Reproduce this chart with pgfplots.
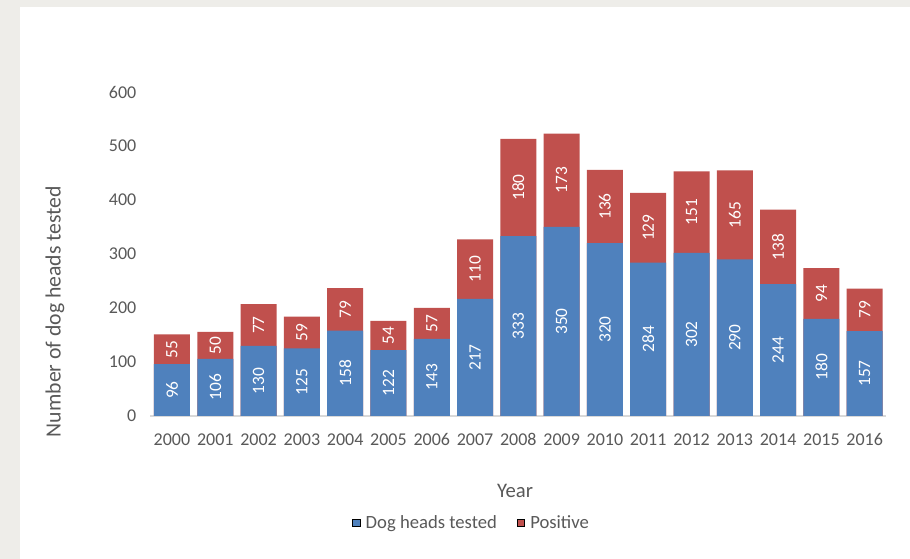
\documentclass[border=0pt]{standalone}
\usepackage{fontspec}
\setmainfont{Carlito}
\usepackage{pgfplots}
\pgfplotsset{compat=1.18}
\usepackage{pgfplotstable}
\definecolor{bluec}{RGB}{79,129,189}
\definecolor{redc}{RGB}{192,80,77}
\definecolor{txt}{RGB}{89,89,89}
\definecolor{bggray}{RGB}{238,237,233}
\definecolor{axgray}{RGB}{217,217,217}

\pgfplotstableread{
x t p
0 96 55
1 106 50
2 130 77
3 125 59
4 158 79
5 122 54
6 143 57
7 217 110
8 333 180
9 350 173
10 320 136
11 284 129
12 302 151
13 290 165
14 244 138
15 180 94
16 157 79
}\data

\begin{document}
\begin{tikzpicture}
\fill[bggray] (0,0) rectangle (682.5pt,419.25pt);
\fill[white] (15pt,0) rectangle (682.5pt,414pt);
\begin{axis}[
  at={(112.76pt,107.25pt)}, anchor=south west,
  scale only axis, width=552pt, height=243pt,
  xmin=-0.5, xmax=16.5, ymin=0, ymax=600,
  clip=false,
  axis x line=bottom, axis y line=left,
  x axis line style={draw=axgray, line width=0.9pt, -},
  y axis line style={draw=none},
  major tick length=0pt,
  tick style={draw=none},
  xtick={0,...,16},
  xticklabels={2000,2001,2002,2003,2004,2005,2006,2007,2008,2009,2010,2011,2012,2013,2014,2015,2016},
  ytick={0,100,...,600},
  /pgf/number format/assume math mode=true,
  ticklabel style={font=\fontsize{13.5}{16}\selectfont, text=txt},
  yticklabel style={xshift=-7pt},
  xticklabel style={anchor=north, text height=9pt, text depth=2pt, yshift=-9.5pt},
  xlabel={Year},
  ylabel={Number of dog heads tested},
  label style={font=\fontsize{15.5}{18}\selectfont, text=txt},
  xlabel style={at={(axis description cs:0.4955,-0.2315)}, anchor=center},
  ylabel style={at={(axis description cs:-0.1296,0.3225)}, anchor=center, font=\fontsize{16.3}{19}\selectfont},
  legend style={at={(axis description cs:0.4370,-0.3302)}, anchor=center,
    draw=none, fill=none, legend columns=2,
    font=\fontsize{14}{16}\selectfont, text=txt,
    /tikz/every even column/.append style={column sep=13pt}},
  legend image code/.code={\fill[#1] (0pt,-2.7pt) rectangle (5.4pt,2.7pt); \path (7.6pt,0pt);},
]
\addplot[ybar, bar width=27pt, bar shift=0pt, fill=redc, draw=none, forget plot]
  table[x=x, y expr=\thisrow{t}+\thisrow{p}] {\data};
\addplot[ybar, bar width=27pt, bar shift=0pt, fill=bluec, draw=none, forget plot]
  table[x=x, y=t] {\data};
\addplot[draw=none, mark=none, forget plot, nodes near coords, point meta=explicit symbolic,
  every node near coord/.append style={rotate=90, anchor=center, font=\fontsize{13}{15}\selectfont, text=white}]
  table[x=x, y expr=\thisrow{t}/2, meta=t] {\data};
\addplot[draw=none, mark=none, forget plot, nodes near coords, point meta=explicit symbolic,
  every node near coord/.append style={rotate=90, anchor=center, font=\fontsize{13}{15}\selectfont, text=white}]
  table[x=x, y expr=\thisrow{t}+\thisrow{p}/2, meta=p] {\data};
\addlegendimage{fill=bluec}
\addlegendentry{Dog heads tested}
\addlegendimage{fill=redc}
\addlegendentry{Positive}
\end{axis}
\end{tikzpicture}
\end{document}
